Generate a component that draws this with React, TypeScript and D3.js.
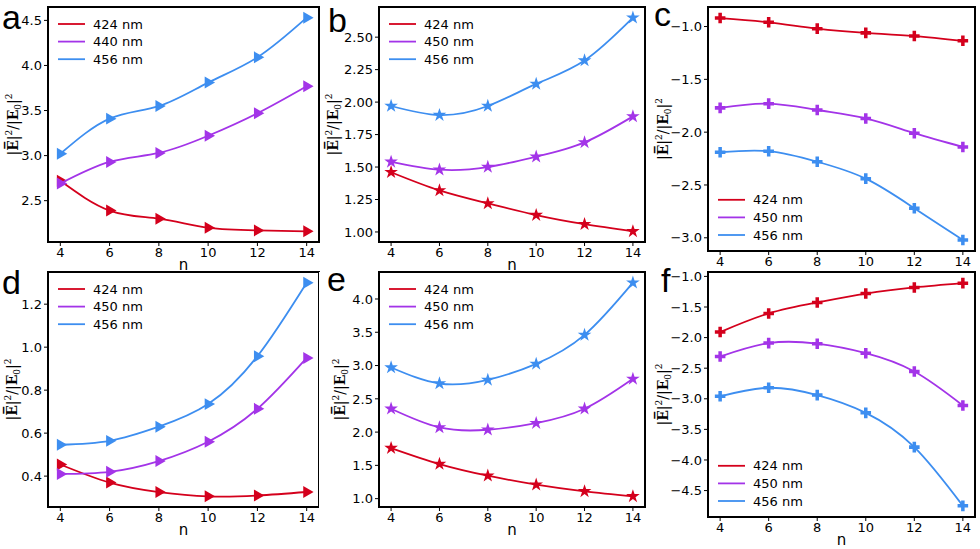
import React from 'react';
import * as d3 from 'd3';

// n values shared by every panel
const nValues = [4, 6, 8, 10, 12, 14];

// panel a
const aLabels = ['424 nm', '440 nm', '456 nm'];
const aRed = [2.72, 2.39, 2.3, 2.2, 2.17, 2.16];
const aPurple = [2.69, 2.93, 3.03, 3.22, 3.47, 3.77];
const aBlue = [3.02, 3.41, 3.55, 3.81, 4.09, 4.53];
const aTicks = [2.5, 3.0, 3.5, 4.0, 4.5];

// panel b
const bLabels = ['424 nm', '450 nm', '456 nm'];
const bRed = [1.46, 1.32, 1.22, 1.13, 1.06, 1.005];
const bPurple = [1.54, 1.48, 1.5, 1.58, 1.69, 1.89];
const bBlue = [1.97, 1.9, 1.97, 2.14, 2.32, 2.65];
const bTicks = [1.0, 1.25, 1.5, 1.75, 2.0, 2.25, 2.5];

// panel c
const cLabels = ['424 nm', '450 nm', '456 nm'];
const cRed = [-0.92, -0.96, -1.02, -1.06, -1.09, -1.135];
const cPurple = [-1.77, -1.73, -1.79, -1.87, -2.01, -2.14];
const cBlue = [-2.19, -2.18, -2.28, -2.44, -2.72, -3.02];
const cTicks = [-3.0, -2.5, -2.0, -1.5, -1.0];

// panel d
const dLabels = ['424 nm', '450 nm', '456 nm'];
const dRed = [0.454, 0.37, 0.326, 0.306, 0.31, 0.326];
const dPurple = [0.41, 0.42, 0.47, 0.56, 0.713, 0.95];
const dBlue = [0.546, 0.564, 0.63, 0.735, 0.958, 1.3];
const dTicks = [0.4, 0.6, 0.8, 1.0, 1.2];

// panel e
const eLabels = ['424 nm', '450 nm', '456 nm'];
const eRed = [1.76, 1.52, 1.345, 1.21, 1.11, 1.035];
const ePurple = [2.35, 2.07, 2.035, 2.135, 2.35, 2.8];
const eBlue = [2.97, 2.73, 2.785, 3.025, 3.46, 4.245];
const eTicks = [1.0, 1.5, 2.0, 2.5, 3.0, 3.5, 4.0];

// panel f
const fLabels = ['424 nm', '450 nm', '456 nm'];
const fRed = [-1.91, -1.605, -1.425, -1.28, -1.18, -1.11];
const fPurple = [-2.31, -2.09, -2.1, -2.255, -2.555, -3.11];
const fBlue = [-2.96, -2.82, -2.94, -3.23, -3.79, -4.75];
const fTicks = [-4.5, -4.0, -3.5, -3.0, -2.5, -2.0, -1.5, -1.0];

const xTicks = [4, 6, 8, 10, 12, 14];
const colors = ['#d4001c', '#a334e8', '#3d8ef0'];

type Marker = 'tri' | 'star' | 'plus';

interface PanelCfg {
  letter: string;
  letterX: number;
  letterY: number;
  left: number;
  right: number;
  top: number;
  bottom: number;
  ylabelOff: number;
  series: number[][];
  labels: string[];
  ticks: number[];
  fmt: string;
  marker: Marker;
  legend: 'upper' | 'lower';
  row: number;
  xlabel: boolean;
}

const panels: PanelCfg[] = [
  { letter: 'a', letterX: 2, letterY: 29, left: 48, right: 319, top: 7, bottom: 242, ylabelOff: 30, series: [aRed, aPurple, aBlue], labels: aLabels, ticks: aTicks, fmt: '.1f', marker: 'tri', legend: 'upper', row: 0, xlabel: true },
  { letter: 'b', letterX: 328, letterY: 32, left: 379, right: 645, top: 7, bottom: 242, ylabelOff: 41, series: [bRed, bPurple, bBlue], labels: bLabels, ticks: bTicks, fmt: '.2f', marker: 'star', legend: 'upper', row: 0, xlabel: true },
  { letter: 'c', letterX: 654, letterY: 26, left: 708, right: 975, top: 7, bottom: 251, ylabelOff: 40, series: [cRed, cPurple, cBlue], labels: cLabels, ticks: cTicks, fmt: '.1f', marker: 'plus', legend: 'lower', row: 0, xlabel: false },
  { letter: 'd', letterX: 2, letterY: 294, left: 48, right: 319, top: 272, bottom: 507, ylabelOff: 31, series: [dRed, dPurple, dBlue], labels: dLabels, ticks: dTicks, fmt: '.1f', marker: 'tri', legend: 'upper', row: 1, xlabel: true },
  { letter: 'e', letterX: 327, letterY: 291, left: 379, right: 645, top: 272, bottom: 507, ylabelOff: 34, series: [eRed, ePurple, eBlue], labels: eLabels, ticks: eTicks, fmt: '.1f', marker: 'star', legend: 'upper', row: 1, xlabel: true },
  { letter: 'f', letterX: 661, letterY: 292, left: 708, right: 975, top: 272, bottom: 517, ylabelOff: 40, series: [fRed, fPurple, fBlue], labels: fLabels, ticks: fTicks, fmt: '.1f', marker: 'plus', legend: 'lower', row: 1, xlabel: true },
];

const FONT = 'DejaVu Sans, sans-serif';

function markerPath(m: Marker): string {
  if (m === 'tri') return d3.symbol(d3.symbolTriangle, 62)() || '';
  if (m === 'star') return d3.symbol(d3.symbolStar, 58)() || '';
  return d3.symbol(d3.symbolCross, 62)() || '';
}

const YLabel: React.FC<{ x: number; y: number }> = ({ x, y }) => (
  <text
    transform={`translate(${x},${y}) rotate(-90)`}
    textAnchor="middle"
    fontFamily="DejaVu Serif, serif"
    fontSize={14}
    fill="#000"
  >
    <tspan>|</tspan>
    <tspan fontWeight="bold">E&#x305;</tspan>
    <tspan>|</tspan>
    <tspan fontSize={9} dy={-6}>2</tspan>
    <tspan dy={6}>/|</tspan>
    <tspan fontWeight="bold">E</tspan>
    <tspan fontSize={9} dy={3}>0</tspan>
    <tspan dy={-3}>|</tspan>
    <tspan fontSize={9} dy={-6}>2</tspan>
  </text>
);

const Panel: React.FC<{ p: PanelCfg }> = ({ p }) => {
  const all = p.series.flat();
  const [lo, hi] = d3.extent(all) as [number, number];
  const pad = (hi - lo) * 0.05;
  const y = d3.scaleLinear().domain([lo - pad, hi + pad]).range([p.bottom, p.top]);
  const xlo = d3.min(nValues)!;
  const xhi = d3.max(nValues)!;
  const xpad = (xhi - xlo) * 0.05;
  const x = d3.scaleLinear().domain([xlo - xpad, xhi + xpad]).range([p.left, p.right]);
  const line = d3
    .line<number>()
    .x((_, i) => x(nValues[i]))
    .y((d) => y(d))
    .curve(d3.curveNatural);
  const fmt = d3.format(p.fmt);
  const sym = markerPath(p.marker);
  const rowH = 17.6;
  const legTop = p.legend === 'upper' ? p.top + 17 : p.bottom - 16 - 2 * rowH;
  const cy = (p.top + p.bottom) / 2;

  return (
    <g>
      {p.row === 1 && (
        <rect x={p.left - 60} y={p.top} width={p.right - p.left + 65} height={549 - p.top} fill="#fff" />
      )}
      <text x={p.letterX} y={p.letterY} fontFamily="Liberation Sans, Arial, sans-serif" fontSize={34} fill="#000">
        {p.letter}
      </text>
      <g clipPath={`url(#clip-${p.letter})`}>
        {p.series.map((s, si) => (
          <g key={si}>
            <path d={line(s) || ''} fill="none" stroke={colors[si]} strokeWidth={1.8} />
            {s.map((v, i) => (
              <path
                key={i}
                d={sym}
                transform={`translate(${x(nValues[i])},${y(v)})${p.marker === 'tri' ? ' rotate(90)' : ''}`}
                fill={colors[si]}
              />
            ))}
          </g>
        ))}
      </g>
      {/* legend */}
      {p.labels.map((lab, i) => (
        <g key={lab} transform={`translate(${p.left + 10},${legTop + i * rowH})`}>
          <line x1={0} x2={27} y1={0} y2={0} stroke={colors[i]} strokeWidth={1.8} />
          <text x={35} y={0} dy="0.36em" fontFamily={FONT} fontSize={13} fill="#000">
            {lab}
          </text>
        </g>
      ))}
      {/* y ticks */}
      {p.ticks.map((t) => (
        <g key={t} transform={`translate(${p.left},${y(t)})`}>
          <line x1={0} x2={-4} stroke="#000" strokeWidth={1} />
          <text x={-6} dy="0.36em" textAnchor="end" fontFamily={FONT} fontSize={13} fill="#000">
            {fmt(t)}
          </text>
        </g>
      ))}
      {/* x ticks */}
      {xTicks.map((t) => (
        <g key={t} transform={`translate(${x(t)},${p.bottom})`}>
          <line y1={0} y2={4} stroke="#000" strokeWidth={1} />
          <text y={15} textAnchor="middle" fontFamily={FONT} fontSize={13} fill="#000">
            {t}
          </text>
        </g>
      ))}
      {p.xlabel && (
        <text x={(p.left + p.right) / 2} y={p.bottom + 28} textAnchor="middle" fontFamily={FONT} fontSize={15} fill="#000">
          n
        </text>
      )}
      <YLabel x={p.left - p.ylabelOff} y={cy} />
      <rect
        x={p.left}
        y={p.top}
        width={p.right - p.left}
        height={p.bottom - p.top}
        fill="none"
        stroke="#000"
        strokeWidth={2}
      />
    </g>
  );
};

const App: React.FC = () => (
  <svg
    width={980}
    height={549}
    style={{ position: 'absolute', left: 0, top: 0, background: '#fff' }}
  >
    <defs>
      {panels.map((p) => (
        <clipPath key={p.letter} id={`clip-${p.letter}`}>
          <rect x={p.left - 8} y={p.top - 8} width={p.right - p.left + 16} height={p.bottom - p.top + 16} />
        </clipPath>
      ))}
    </defs>
    <rect width={980} height={549} fill="#fff" />
    {panels.map((p) => (
      <Panel key={p.letter} p={p} />
    ))}
  </svg>
);

export default App;
